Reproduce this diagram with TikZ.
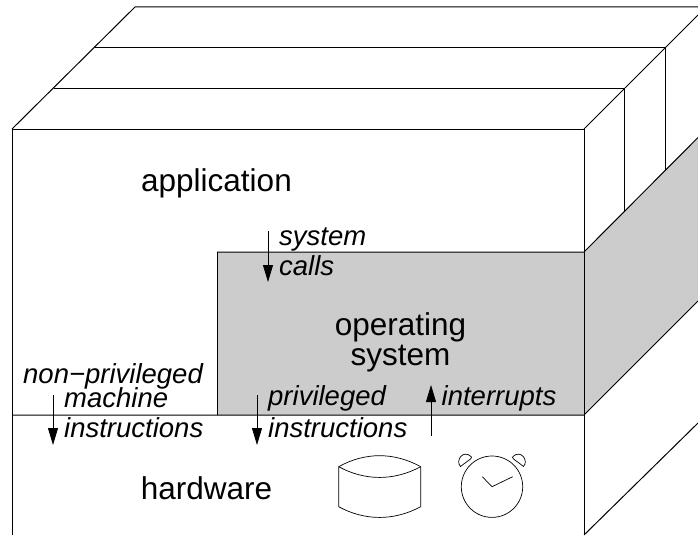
\documentclass[tikz,border=0pt]{standalone}
\usepackage{fontspec}
\setmainfont{Liberation Sans}
\usetikzlibrary{arrows.meta}
\begin{document}
\begin{tikzpicture}[x=1pt,y=-1pt,
  edge/.style={draw=black,line width=1pt,line join=miter},
  thin edge/.style={draw=black,line width=0.7pt},
  big/.style={font=\fontsize{31.5}{30}\selectfont,inner sep=0pt,align=center},
  lab/.style={font=\fontsize{27.5}{29}\selectfont\itshape,inner sep=0pt,anchor=base west},
  flow/.style={draw=black,line width=0.8pt,-{Triangle[length=17pt,width=10pt]}}]
\useasboundingbox (0,0) rectangle (698,535);
\coordinate (A) at (12,129);
\coordinate (B) at (584,129);
\coordinate (TL) at (135,7);
\coordinate (TR) at (698,7);
\coordinate (M1L) at (95,47.7);
\coordinate (M1R) at (665.5,47.7);
\coordinate (M2L) at (54,88.7);
\coordinate (M2R) at (624.5,88.7);
\coordinate (DE) at (698,15);
\coordinate (C1) at (624.5,211);
\coordinate (C2) at (665.5,170);
\coordinate (G1) at (217,252);
\coordinate (G2) at (584,252);
\coordinate (G3) at (698,137.5);
\coordinate (G4) at (698,301);
\coordinate (G5) at (584,415);
\coordinate (G6) at (217,415);
\coordinate (LB) at (12,535);
\coordinate (RB) at (584,535);
\coordinate (LM) at (12,415);
\coordinate (LD) at (698,423);
\fill[black!20] (G1)--(G2)--(G3)--(G4)--(G5)--(G6)--cycle;
\draw[edge] (LB)--(A)--(B)--(RB);
\draw[edge] (A)--(TL)--(TR);
\draw[edge] (B)--(DE);
\draw[edge] (M1L)--(M1R)--(C2);
\draw[edge] (M2L)--(M2R)--(C1);
\draw[edge] (G1)--(G2)--(G3);
\draw[edge] (G1)--(G6);
\draw[edge] (LM)--(G5)--(G4);
\draw[edge] (RB)--(LD);
% labels
\node[big] (app) at (216.5,183.5) {application};
\node[big] (os) at (400.5,342.5) {operating\\system};
\node[big] (hw) at (206.5,488) {hardware};
\node[lab] (sys) at (279,245) {system};
\node[lab] (calls) at (279,275) {calls};
\node[lab] (np) at (23,383) {non−privileged};
\node[lab] (mach) at (64,407) {machine};
\node[lab] (ins1) at (64,437) {instructions};
\node[lab] (priv) at (268,405) {privileged};
\node[lab] (ins2) at (268,437) {instructions};
\node[lab] (intr) at (441.5,405) {interrupts};
% arrows
\coordinate (s1) at (268,231); \coordinate (s2) at (268,282);
\coordinate (n1) at (53,395); \coordinate (n2) at (53,445);
\coordinate (p1) at (257,395); \coordinate (p2) at (257,445);
\coordinate (i1) at (431,436); \coordinate (i2) at (431,385);
\draw[flow] (s1)--(s2);
\draw[flow] (n1)--(n2);
\draw[flow] (p1)--(p2);
\draw[flow] (i1)--(i2);
% disk
\coordinate (d1) at (338.7,466.7); \coordinate (d2) at (420.7,466.7);
\coordinate (d3) at (420.7,506.7); \coordinate (d4) at (338.7,506.7);
\draw[thin edge] (d1) .. controls (365,452) and (394,452) .. (d2);
\draw[thin edge] (d1) .. controls (365,481) and (394,481) .. (d2);
\draw[thin edge] (d1)--(d4) .. controls (365,521) and (394,521) .. (d3)--(d2);
% clock
\coordinate (c) at (492,486.7);
\draw[thin edge] (c) circle[radius=30.7];
\coordinate (h1) at (482.3,476.7); \coordinate (h2) at (512.7,476.7);
\draw[thin edge] (h1)--(c)--(h2);
\coordinate (b1) at (460.5,466.5); \coordinate (b2) at (471,456.5);
\coordinate (b3) at (523.5,466.5); \coordinate (b4) at (513,456.5);
\draw[thin edge] (b1) .. controls (455,461) and (463,449) .. (b2) .. controls (473,458) and (470,459) .. (b1) -- cycle;
\draw[thin edge] (b3) .. controls (529,461) and (521,449) .. (b4) .. controls (511,458) and (514,459) .. (b3) -- cycle;
\end{tikzpicture}
\end{document}
